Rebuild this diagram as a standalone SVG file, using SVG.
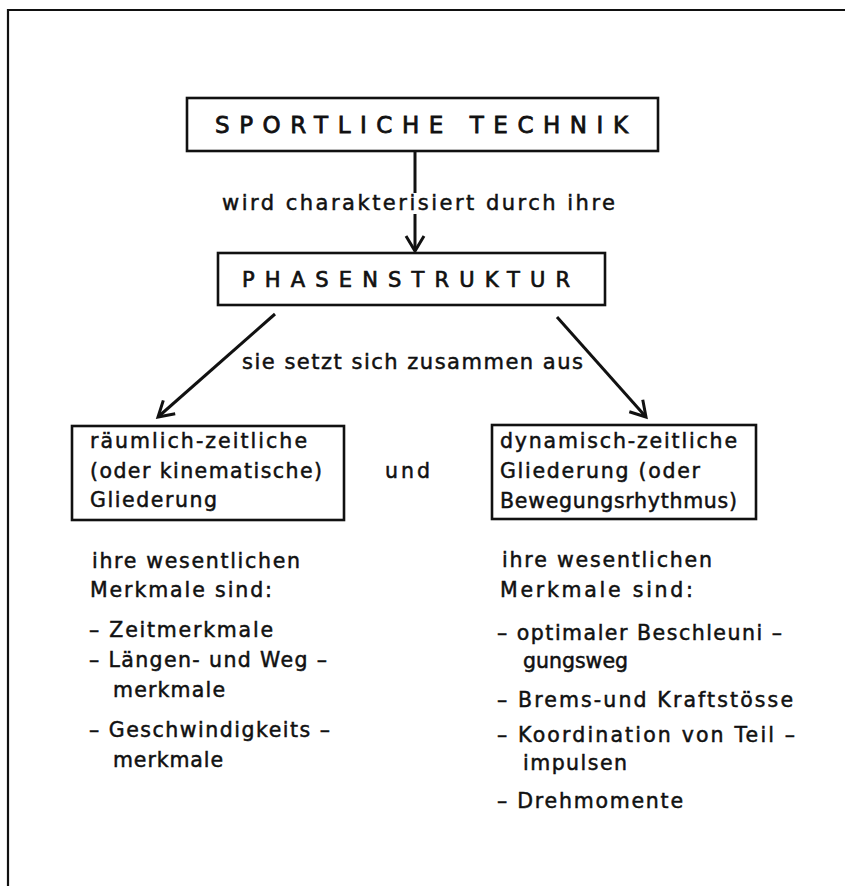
<svg xmlns="http://www.w3.org/2000/svg" width="845" height="886" viewBox="0 0 845 886">
<style>
.box{fill:#fff;stroke:#111;stroke-width:2.6}
.t{font-family:"DejaVu Sans","Liberation Sans",Arial,sans-serif;fill:#111;stroke:#111;stroke-width:0.5}
.title{font-size:23px;stroke-width:0.8}
.sub{font-size:21px;stroke-width:0.7}
.lab{font-size:21px}
.txt{font-size:20.5px}
.conn{stroke:#111;stroke-width:3;fill:none}
.frame{stroke:#111;stroke-width:2.2;fill:none}
</style>
<defs>
<marker id="chev" viewBox="-18 -12 20 24" markerWidth="20" markerHeight="24" refX="0" refY="0" orient="auto" markerUnits="userSpaceOnUse" overflow="visible">
<path d="M-15,-9 L0,0 L-15,9" fill="none" stroke="#111" stroke-width="3" stroke-linejoin="miter"/>
</marker>
</defs>
<rect width="845" height="886" fill="#fff"/>
<path class="frame" d="M8,886 L8,10 L845,10"/>

<g id="sportliche-technik">
<rect class="box" x="187" y="98" width="471" height="53"/>
<text class="t title" x="215" y="133" textLength="413" lengthAdjust="spacing">SPORTLICHE TECHNIK</text>
</g>

<g id="phasenstruktur">
<rect class="box" x="218" y="253" width="387" height="52"/>
<text class="t sub" x="242" y="287" textLength="328" lengthAdjust="spacing">PHASENSTRUKTUR</text>
</g>

<g id="raeumlich">
<rect class="box" x="72" y="426" width="272" height="94"/>
<text class="t txt" x="90" y="448" textLength="217" lengthAdjust="spacing">räumlich-zeitliche</text>
<text class="t txt" x="90" y="478" textLength="232" lengthAdjust="spacing">(oder kinematische)</text>
<text class="t txt" x="90" y="507" textLength="127" lengthAdjust="spacing">Gliederung</text>
</g>

<g id="und">
<text class="t txt" x="385" y="478" textLength="45" lengthAdjust="spacing">und</text>
</g>

<g id="dynamisch">
<rect class="box" x="492" y="425" width="264" height="94"/>
<text class="t txt" x="500" y="448" textLength="237" lengthAdjust="spacing">dynamisch-zeitliche</text>
<text class="t txt" x="500" y="478" textLength="200" lengthAdjust="spacing">Gliederung (oder</text>
<text class="t txt" x="500" y="508" textLength="237" lengthAdjust="spacing">Bewegungsrhythmus)</text>
</g>

<g id="merkmale-links">
<text class="t txt" x="92" y="568" textLength="208" lengthAdjust="spacing">ihre wesentlichen</text>
<text class="t txt" x="90" y="597" textLength="182" lengthAdjust="spacing">Merkmale sind:</text>
<text class="t txt" x="89" y="637" textLength="184" lengthAdjust="spacing">– Zeitmerkmale</text>
<text class="t txt" x="89" y="667" textLength="238" lengthAdjust="spacing">– Längen- und Weg –</text>
<text class="t txt" x="113" y="697" textLength="112" lengthAdjust="spacing">merkmale</text>
<text class="t txt" x="89" y="737" textLength="241" lengthAdjust="spacing">– Geschwindigkeits –</text>
<text class="t txt" x="113" y="767" textLength="110" lengthAdjust="spacing">merkmale</text>
</g>

<g id="merkmale-rechts">
<text class="t txt" x="502" y="567" textLength="210" lengthAdjust="spacing">ihre wesentlichen</text>
<text class="t txt" x="500" y="597" textLength="193" lengthAdjust="spacing">Merkmale sind:</text>
<text class="t txt" x="497" y="640" textLength="285" lengthAdjust="spacing">– optimaler Beschleuni –</text>
<text class="t txt" x="523" y="668" textLength="105" lengthAdjust="spacing">gungsweg</text>
<text class="t txt" x="497" y="707" textLength="296" lengthAdjust="spacing">– Brems-und Kraftstösse</text>
<text class="t txt" x="497" y="742" textLength="298" lengthAdjust="spacing">– Koordination von Teil –</text>
<text class="t txt" x="523" y="770" textLength="104" lengthAdjust="spacing">impulsen</text>
<text class="t txt" x="497" y="808" textLength="186" lengthAdjust="spacing">– Drehmomente</text>
</g>

<g id="connectors">
<line class="conn" x1="415" y1="152" x2="415" y2="193"/>
<line class="conn" x1="415" y1="214" x2="415" y2="251" marker-end="url(#chev)"/>
<text class="t lab" x="222" y="210" textLength="393" lengthAdjust="spacing">wird charakterisiert durch ihre</text>
<line class="conn" x1="275" y1="314" x2="158" y2="417" marker-end="url(#chev)"/>
<line class="conn" x1="557" y1="317" x2="646" y2="417" marker-end="url(#chev)"/>
<text class="t lab" x="242" y="369" textLength="341" lengthAdjust="spacing">sie setzt sich zusammen aus</text>
</g>
</svg>
